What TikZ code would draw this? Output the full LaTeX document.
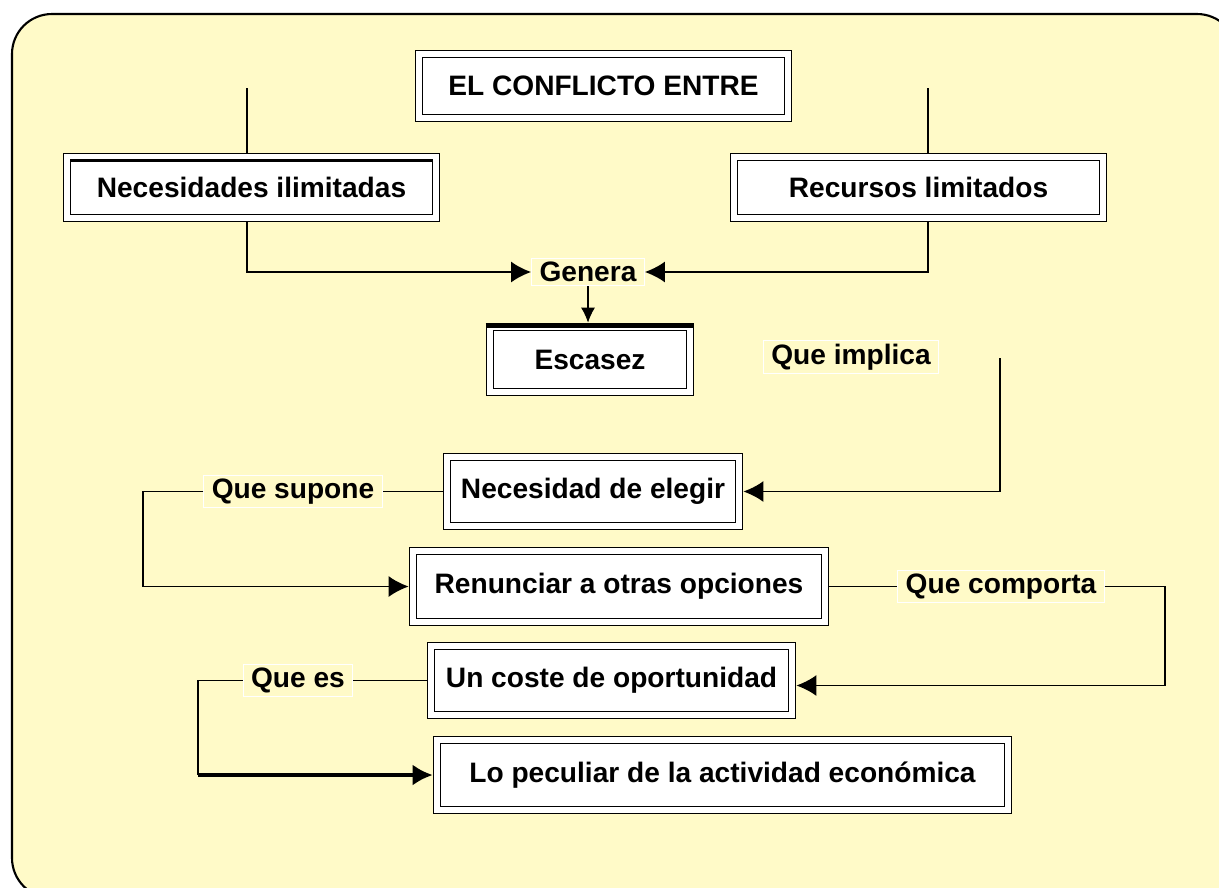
\documentclass[tikz,border=0pt]{standalone}
\usepackage{fontspec}
\setmainfont{Liberation Sans}
\usetikzlibrary{arrows.meta,positioning}
\definecolor{fondo}{RGB}{255,250,200}

\begin{document}
\begin{tikzpicture}[
  x=0.02cm, y=-0.02cm,
  font=\fontsize{16}{19}\selectfont\bfseries,
  line width=1.1pt,
  caja/.style={draw, double=white, double distance=3.4pt, line width=0.8pt, fill=white, align=center, inner sep=0pt, outer sep=2.5pt},
  etiqueta/.style={draw=white, fill=fondo, line width=0.6pt, inner xsep=4.5pt, inner ysep=2pt},
  flecha/.style={-{Latex[length=0.4cm,width=0.42cm]}}
]
\useasboundingbox (0,0) rectangle (1219,887);
\draw[fill=fondo, line width=1.2pt, rounded corners=0.8cm] (12,14) rectangle (1237,898);

\node[caja, minimum width=7.38cm, minimum height=1.28cm] (titulo) at (603.5,86) {EL CONFLICTO ENTRE};
\node[caja, minimum width=7.38cm, minimum height=1.22cm] (necesidades) at (251.5,187.5) {Necesidades ilimitadas};
\node[caja, minimum width=7.38cm, minimum height=1.22cm] (recursos) at (918.5,187.5) {Recursos limitados};
\node[etiqueta] (genera) at (588,272) {Genera};
\node[caja, minimum width=4cm, minimum height=1.3cm] (escasez) at (590,359.5) {Escasez};
\node[etiqueta] (implica) at (851,357) {Que implica};
\node[caja, minimum width=5.84cm, minimum height=1.38cm] (elegir) at (593,491.5) {Necesidad de elegir};
\node[etiqueta] (supone) at (293,491.5) {Que supone};
\node[caja, minimum width=8.24cm, minimum height=1.42cm] (renunciar) at (619,586.5) {Renunciar a otras opciones};
\node[etiqueta] (comporta) at (1001,586.5) {Que comporta};
\node[caja, minimum width=7.22cm, minimum height=1.38cm] (coste) at (611.5,680.5) {Un coste de oportunidad};
\node[etiqueta] (es) at (298,680.5) {Que es};
\node[caja, minimum width=11.42cm, minimum height=1.4cm] (peculiar) at (722.5,775) {Lo peculiar de la actividad económica};

\draw[line width=3pt] ([yshift=-1.5pt]escasez.north west) -- ([yshift=-1.5pt]escasez.north east);
\draw[line width=2pt] ([shift={(4.2pt,-4.6pt)}]necesidades.north west) -- ([shift={(-4.2pt,-4.6pt)}]necesidades.north east);

\coordinate (necArriba) at (247,88);
\coordinate (recArriba) at (928,88);
\coordinate (implicaBaja) at (1000,358);
\coordinate (suponeIzq) at (143,491.5);
\coordinate (comportaDer) at (1165,586.5);
\coordinate (esIzq) at (198,680.5);

\draw (necArriba) -- (necArriba |- necesidades.north);
\draw[flecha] (necArriba |- necesidades.south) |- (genera.west);
\draw (recArriba) -- (recArriba |- recursos.north);
\draw[flecha] (recArriba |- recursos.south) |- (genera.east);
\draw[-{Latex[length=0.3cm,width=0.28cm]}, line width=0.6pt] (genera.south) -- (genera.south |- escasez.north);

\draw[flecha] (implicaBaja) |- (elegir.east);
\draw (elegir.west) -- (supone.east);
\draw[flecha] (supone.west) -- (suponeIzq) |- (renunciar.west);
\draw (renunciar.east) -- (comporta.west);
\draw[flecha] (comporta.east) -- (comportaDer) |- ([yshift=-0.1cm]coste.east);
\draw (coste.west) -- (es.east);
\draw (es.west) -- (esIzq) -- (esIzq |- peculiar.west);
\draw[flecha, line width=2pt] (esIzq |- peculiar.west) -- (peculiar.west);
\end{tikzpicture}
\end{document}
